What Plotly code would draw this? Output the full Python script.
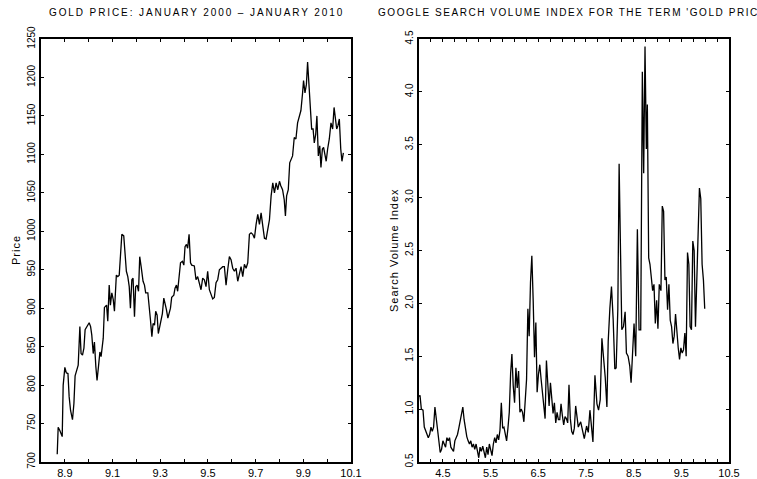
import plotly.graph_objects as go

# ---------------- data ----------------
gold_x = [8.868, 8.872, 8.879, 8.889, 8.893, 8.900, 8.906, 8.913, 8.918, 8.924,
          8.932, 8.938, 8.943, 8.949, 8.956, 8.963, 8.968, 8.974, 8.980, 8.985,
          8.994, 9.002, 9.008, 9.013, 9.019, 9.024, 9.030, 9.035, 9.041, 9.047,
          9.052, 9.061, 9.066, 9.075, 9.080, 9.086, 9.091, 9.097, 9.103, 9.108,
          9.116, 9.122, 9.128, 9.133, 9.139, 9.147, 9.153, 9.158, 9.164, 9.170,
          9.175, 9.181, 9.186, 9.192, 9.197, 9.203, 9.209, 9.214, 9.220, 9.228,
          9.234, 9.239, 9.248, 9.253, 9.259, 9.265, 9.270, 9.276, 9.281, 9.287,
          9.292, 9.298, 9.304, 9.309, 9.315, 9.320, 9.326, 9.332, 9.337, 9.343,
          9.348, 9.357, 9.362, 9.368, 9.373, 9.379, 9.385, 9.393, 9.399, 9.404,
          9.410, 9.415, 9.421, 9.427, 9.432,
          9.443, 9.450, 9.457, 9.464, 9.471, 9.478, 9.485, 9.492, 9.499, 9.506,
          9.513, 9.520, 9.527, 9.534, 9.541, 9.548, 9.555, 9.562, 9.569, 9.576,
          9.583, 9.590, 9.597, 9.604, 9.611, 9.618, 9.625, 9.632, 9.639, 9.646,
          9.653, 9.660, 9.667, 9.674, 9.681, 9.688, 9.695, 9.702, 9.709, 9.716,
          9.723, 9.730, 9.737, 9.744, 9.751, 9.758, 9.765, 9.772, 9.779, 9.786,
          9.793, 9.800, 9.806, 9.813, 9.820, 9.825, 9.830, 9.837, 9.843, 9.848,
          9.855, 9.862, 9.869, 9.876, 9.883, 9.890, 9.897, 9.901, 9.907, 9.913,
          9.918, 9.924, 9.929, 9.935, 9.941, 9.946, 9.952, 9.957, 9.963, 9.969,
          9.974, 9.980, 9.985, 9.991, 9.996, 10.002, 10.009, 10.016, 10.023, 10.029,
          10.034, 10.040, 10.045, 10.051, 10.057, 10.062, 10.068]

gold_price = [710, 745, 741, 733, 800, 823, 816, 815, 785, 767,
              755, 776, 812, 820, 826, 876, 841, 839, 848, 872,
              877, 881, 876, 865, 841, 856, 824, 806, 824, 843,
              837, 861, 901, 904, 883, 930, 904, 920, 911, 896,
              943, 941, 943, 972, 996, 994, 963, 948, 941, 928,
              900, 937, 939, 889, 928, 930, 922, 967, 954, 935,
              930, 920, 920, 898, 885, 863, 880, 878, 896, 891,
              867, 876, 885, 893, 913, 907, 898, 887, 893, 900,
              914, 917, 926, 930, 922, 937, 959, 961, 956, 980,
              983, 978, 996, 959, 956,
              955, 937, 941, 933, 924, 939, 937, 928, 948, 924,
              918, 912, 914, 933, 937, 950, 952, 954, 954, 930,
              950, 967, 963, 952, 948, 952, 935, 944, 954, 941,
              957, 952, 959, 996, 998, 996, 991, 1009, 1022, 1009,
              1024, 1007, 991, 990, 1002, 1015, 1046, 1063, 1050, 1063,
              1054, 1065, 1059, 1054, 1041, 1020, 1046, 1054, 1089, 1094,
              1098, 1122, 1120, 1141, 1150, 1157, 1180, 1196, 1180, 1191,
              1220, 1189, 1161, 1133, 1133, 1115, 1126, 1150, 1098, 1111,
              1083, 1107, 1109, 1096, 1091, 1107, 1120, 1141, 1133, 1161,
              1148, 1133, 1137, 1146, 1107, 1091, 1102]

svi_x = [4.000, 4.021, 4.049, 4.084, 4.111, 4.139, 4.167, 4.195, 4.223, 4.251,
         4.278, 4.306, 4.334, 4.362, 4.390, 4.418, 4.445, 4.473, 4.501, 4.529,
         4.557, 4.585, 4.612, 4.640, 4.668, 4.696, 4.724, 4.752, 4.779, 4.807,
         4.835, 4.863, 4.891, 4.919, 4.946, 4.974, 5.002, 5.030, 5.058, 5.086,
         5.113, 5.141, 5.169, 5.197, 5.225, 5.253, 5.280, 5.308, 5.336, 5.364,
         5.392, 5.420, 5.447, 5.475, 5.503, 5.531, 5.559, 5.587, 5.614, 5.642,
         5.670, 5.698, 5.726, 5.754, 5.781, 5.809, 5.837, 5.865, 5.893, 5.921,
         5.948, 5.976, 6.004, 6.032, 6.060, 6.088, 6.116, 6.143, 6.171, 6.199,
         6.227, 6.255, 6.283, 6.310, 6.338, 6.366, 6.394, 6.422, 6.450, 6.477,
         6.505, 6.533, 6.561, 6.589, 6.617, 6.644, 6.672, 6.700, 6.728, 6.756,
         6.784, 6.811, 6.839, 6.867, 6.895, 6.923, 6.951, 6.978, 7.006, 7.034,
         7.062, 7.090, 7.118, 7.145, 7.173, 7.201, 7.229, 7.257, 7.285, 7.312,
         7.340, 7.390, 7.430, 7.466, 7.514, 7.549, 7.584, 7.619, 7.647, 7.689,
         7.731, 7.765, 7.800, 7.835, 7.869, 7.905, 7.940, 7.967, 8.002, 8.036,
         8.071, 8.106, 8.134, 8.169, 8.196, 8.252, 8.287, 8.322, 8.349, 8.384,
         8.419, 8.447, 8.475, 8.509, 8.544, 8.579, 8.614, 8.649, 8.683, 8.711,
         8.739, 8.767, 8.788, 8.816, 8.843, 8.871, 8.899, 8.927, 8.955, 8.983,
         9.010, 9.038, 9.073, 9.101, 9.129, 9.157, 9.184, 9.212, 9.240, 9.268,
         9.296, 9.324, 9.351, 9.379, 9.407, 9.435, 9.463, 9.491, 9.519, 9.546,
         9.574, 9.602, 9.630, 9.658, 9.685, 9.713, 9.741, 9.769, 9.797, 9.825,
         9.852, 9.880, 9.908, 9.936, 9.964, 9.991]

svi_value = [1.12, 1.13, 1.00, 0.99, 0.83, 0.80, 0.76, 0.73, 0.76, 0.83,
             0.79, 0.83, 1.02, 0.90, 0.79, 0.70, 0.59, 0.62, 0.70, 0.67,
             0.64, 0.73, 0.70, 0.73, 0.64, 0.62, 0.60, 0.70, 0.73, 0.76,
             0.82, 0.90, 0.97, 1.02, 0.90, 0.79, 0.74, 0.70, 0.67, 0.70,
             0.64, 0.67, 0.62, 0.67, 0.60, 0.54, 0.64, 0.60, 0.65, 0.60,
             0.54, 0.64, 0.57, 0.67, 0.60, 0.56, 0.67, 0.73, 0.68, 0.76,
             0.71, 0.80, 1.06, 0.82, 0.83, 0.76, 0.70, 0.82, 0.97, 1.34,
             1.52, 1.22, 1.06, 1.39, 1.20, 1.36, 0.97, 1.00, 0.97, 0.88,
             1.10, 1.28, 1.95, 1.69, 2.20, 2.45, 2.03, 1.49, 1.82, 1.16,
             1.33, 1.42, 1.28, 1.13, 1.00, 0.91, 1.46, 1.22, 1.03, 1.25,
             1.13, 0.96, 1.06, 0.87, 0.97, 0.90, 0.90, 1.05, 0.94, 0.85,
             0.93, 0.91, 0.87, 1.23, 0.91, 0.79, 0.76, 0.82, 1.03, 0.90,
             0.83, 0.88, 0.81, 0.72, 0.84, 0.78, 0.99, 0.81, 0.69, 1.32,
             1.05, 0.99, 1.09, 1.67, 1.49, 1.30, 1.02, 1.64, 1.95, 2.16,
             1.85, 1.38, 1.39, 1.95, 3.32, 1.75, 1.78, 1.92, 1.53, 1.50,
             1.41, 1.25, 1.50, 1.81, 1.50, 2.70, 1.75, 1.75, 4.19, 3.23,
             4.43, 3.46, 3.88, 2.43, 2.37, 2.25, 2.12, 2.18, 1.81, 2.03,
             1.76, 2.18, 2.12, 2.92, 2.87, 2.22, 2.25, 1.94, 2.18, 1.84,
             1.78, 1.62, 1.69, 1.90, 1.69, 1.58, 1.47, 1.58, 1.53, 1.56,
             1.72, 1.50, 2.48, 2.37, 1.78, 1.75, 2.59, 2.50, 1.78, 2.18,
             2.50, 3.09, 2.99, 2.37, 2.22, 1.95]

left_x_ticks = [8.9, 9.0, 9.1, 9.2, 9.3, 9.4, 9.5, 9.6, 9.7, 9.8, 9.9, 10.0, 10.1]
left_x_labels = ["8.9", "", "9.1", "", "9.3", "", "9.5", "", "9.7", "", "9.9", "", "10.1"]
left_y_ticks = [700, 750, 800, 850, 900, 950, 1000, 1050, 1100, 1150, 1200, 1250]
left_y_labels = ["700", "750", "800", "850", "900", "950", "1000", "1050", "1100", "1150", "1200", "1250"]

right_x_ticks = [4.25, 4.5, 4.75, 5.0, 5.25, 5.5, 5.75, 6.0, 6.25, 6.5, 6.75, 7.0, 7.25,
                 7.5, 7.75, 8.0, 8.25, 8.5, 8.75, 9.0, 9.25, 9.5, 9.75, 10.0, 10.25, 10.5]
right_x_labels = ["", "4.5", "", "", "", "5.5", "", "", "", "6.5", "", "", "",
                  "7.5", "", "", "", "8.5", "", "", "", "9.5", "", "", "", "10.5"]
right_y_ticks = [0.5, 1.0, 1.5, 2.0, 2.5, 3.0, 3.5, 4.0, 4.5]
right_y_labels = ["0.5", "1.0", "1.5", "2.0", "2.5", "3.0", "3.5", "4.0", "4.5"]

left_title = "GOLD PRICE: JANUARY 2000 \u2013 JANUARY 2010"
right_title = "GOOGLE SEARCH VOLUME INDEX FOR THE TERM 'GOLD PRICE'"
left_ylabel = "Price"
right_ylabel = "Search Volume Index"

# ---------------- figure ----------------
W, H = 757, 479
FONT = "Liberation Sans, Arial, Helvetica, sans-serif"

fig = go.Figure()
fig.add_trace(go.Scatter(x=gold_x, y=gold_price, mode="lines",
                         line=dict(color="black", width=1.3),
                         xaxis="x", yaxis="y", showlegend=False))
fig.add_trace(go.Scatter(x=svi_x, y=svi_value, mode="lines",
                         line=dict(color="black", width=1.3),
                         xaxis="x2", yaxis="y2", showlegend=False))

common = dict(showline=True, linewidth=2, linecolor="black", mirror="ticks",
              ticks="inside", ticklen=3, tickwidth=1, tickcolor="black",
              showgrid=False, zeroline=False, fixedrange=True, automargin=False)
xfont = dict(family=FONT, size=11, color="black")
yfont = dict(family=FONT, size=10, color="black")

ydom = [17 / H, 440 / H]
fig.update_layout(
    template="none",
    width=W, height=H, autosize=False,
    margin=dict(l=0, r=0, t=0, b=0, pad=0),
    paper_bgcolor="white", plot_bgcolor="white",
    showlegend=False,
    xaxis=dict(domain=[41 / W, 351 / W], range=[8.8, 10.1], tickmode="array",
               tickvals=left_x_ticks, ticktext=left_x_labels, tickfont=xfont,
               anchor="y", **common),
    yaxis=dict(domain=ydom, range=[700, 1250], tickmode="array",
               tickvals=left_y_ticks, ticktext=left_y_labels, tickfont=yfont,
               tickangle=-90, anchor="x", **common),
    xaxis2=dict(domain=[419 / W, 729 / W], range=[4.0, 10.5], tickmode="array",
                tickvals=right_x_ticks, ticktext=right_x_labels, tickfont=xfont,
                anchor="y2", **common),
    yaxis2=dict(domain=ydom, range=[0.5, 4.5], tickmode="array",
                tickvals=right_y_ticks, ticktext=right_y_labels, tickfont=yfont,
                tickangle=-90, anchor="x2", **common),
)

def spaced(t, ls):
    return "<span style='letter-spacing:%spx'>%s</span>" % (ls, t)

ann_font = dict(family=FONT, size=10, color="black")
fig.add_annotation(text=spaced(left_title, 1.9), x=196 / W, y=1 - 12.5 / H,
                   xref="paper", yref="paper", xanchor="center", yanchor="middle",
                   showarrow=False, font=ann_font)
fig.add_annotation(text=spaced(right_title, 1.55), x=574 / W, y=1 - 12.5 / H,
                   xref="paper", yref="paper", xanchor="center", yanchor="middle",
                   showarrow=False, font=ann_font)
fig.add_annotation(text=spaced(left_ylabel, 1), x=16 / W, y=1 - 250 / H,
                   xref="paper", yref="paper", xanchor="center", yanchor="middle",
                   textangle=-90, showarrow=False,
                   font=dict(family=FONT, size=11, color="black"))
fig.add_annotation(text=spaced(right_ylabel, 1), x=394 / W, y=1 - 250 / H,
                   xref="paper", yref="paper", xanchor="center", yanchor="middle",
                   textangle=-90, showarrow=False,
                   font=dict(family=FONT, size=11, color="black"))

fig.write_html("out.html", config={"displayModeBar": False},
               post_script="document.body.style.margin='0';document.body.style.overflow='hidden';")
